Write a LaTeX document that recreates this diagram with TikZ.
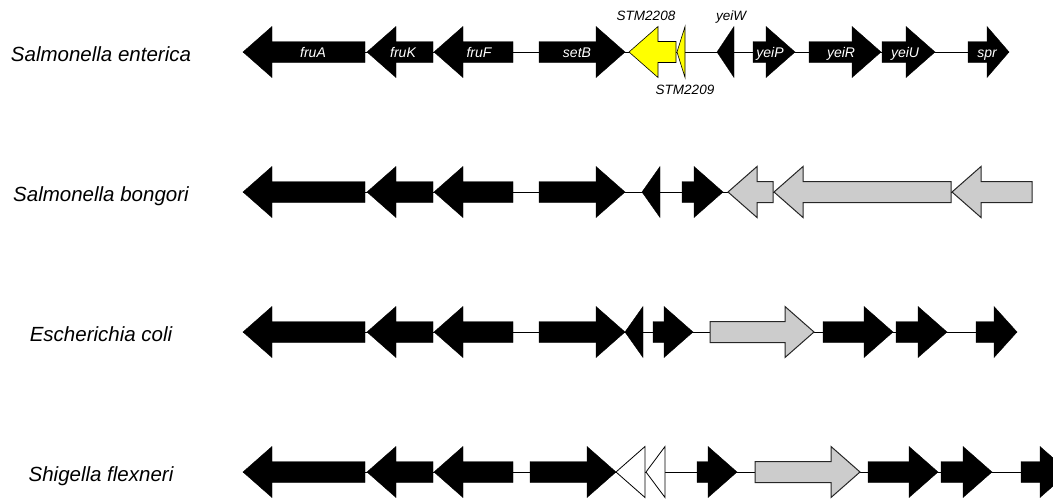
\documentclass[tikz,border=0pt]{standalone}
\usepackage{fontspec}
\setmainfont{Liberation Sans}
\usepackage{tikz}

\definecolor{genegray}{HTML}{CCCCCC}
\definecolor{geneyellow}{HTML}{FFFF00}

\tikzset{
   blackgene/.style={fill=black, draw=black, line width=.4pt},
   graygene/.style={fill=genegray, draw=black!85, line width=1pt},
   yellowgene/.style={fill=geneyellow, draw=black, line width=.6pt},
   whitegene/.style={fill=white, draw=black, line width=.8pt},
   backbone/.style={draw=black, line width=1pt},
   species/.style={anchor=base, font=\fontsize{20.5}{24}\selectfont\itshape},
   genename/.style={anchor=base, text=white, font=\fontsize{14}{16}\selectfont\itshape},
   outname/.style={anchor=base, text=black, font=\fontsize{13.5}{16}\selectfont\itshape}
}

% #1 head length, #2 style, #3 tail x, #4 tip x, #5 row y
\newcommand{\genearrow}[5][29]{%
   \pgfmathsetmacro{\gdir}{sign(#4-#3)}%
   \pgfmathsetmacro{\ghead}{min(#1,abs(#4-#3))}%
   \pgfmathsetmacro{\gbase}{#4-\gdir*\ghead}%
   \draw[#2] (#3,#5-10.5) -- (\gbase,#5-10.5) -- (\gbase,#5-25.5) -- (#4,#5)
      -- (\gbase,#5+25.5) -- (\gbase,#5+10.5) -- (#3,#5+10.5) -- cycle;%
}

\begin{document}
\begin{tikzpicture}[x=1pt, y=-1pt]
   \useasboundingbox (0,0) rectangle (1053,499);
   \clip (0,0) rectangle (1053,499);

   \node[species] (enterica) at (101,61) {Salmonella enterica};
   \node[species] (bongori) at (101,201) {Salmonella bongori};
   \node[species] (coli) at (101,341) {Escherichia coli};
   \node[species] (flexneri) at (101,481) {Shigella flexneri};

   % Salmonella enterica
   \draw[backbone] (243,52) -- (1009,52);
   \foreach \t/\p/\s/\h in {365/243/blackgene/29, 433/367/blackgene/29,
         513/434/blackgene/29, 539/625/blackgene/29, 676/629/yellowgene/29,
         685/677/yellowgene/29, 734/717/blackgene/29, 753/795/blackgene/29,
         809/881/blackgene/29, 882/935/blackgene/29, 968/1009/blackgene/22}
      \genearrow[\h]{\s}{\t}{\p}{52};

   \node[genename] (fruA) at (313,57) {fruA};
   \node[genename] (fruK) at (403,57) {fruK};
   \node[genename] (fruF) at (479,57) {fruF};
   \node[genename] (setB) at (577,57) {setB};
   \node[genename] (yeiP) at (770,57) {yeiP};
   \node[genename] (yeiR) at (841,57) {yeiR};
   \node[genename] (yeiU) at (905,57) {yeiU};
   \node[genename] (spr) at (987,57) {spr};
   \node[outname] (STM2208) at (646,20) {STM2208};
   \node[outname] (STM2209) at (685,94) {STM2209};
   \node[outname] (yeiW) at (731,20) {yeiW};

   % Salmonella bongori
   \draw[backbone] (243,192) -- (1032,192);
   \foreach \t/\p/\s in {365/243/blackgene, 433/367/blackgene,
         513/434/blackgene, 539/625/blackgene, 660/642/blackgene,
         682/723/blackgene, 773/728/graygene, 951/774/graygene,
         1032/952/graygene}
      \genearrow{\s}{\t}{\p}{192};

   % Escherichia coli
   \draw[backbone] (243,332) -- (1017,332);
   \foreach \t/\p/\s/\h in {365/243/blackgene/29, 433/367/blackgene/29,
         513/434/blackgene/29, 539/625/blackgene/29, 643/625/blackgene/29,
         653/693/blackgene/29, 710/814/graygene/29, 823/893/blackgene/29,
         896/947/blackgene/29, 976/1017/blackgene/23}
      \genearrow[\h]{\s}{\t}{\p}{332};

   % Shigella flexneri
   \draw[backbone] (243,472) -- (1060,472);
   \foreach \t/\p/\s in {365/243/blackgene, 433/367/blackgene,
         513/434/blackgene, 530/616/blackgene, 645/616/whitegene,
         665/646/whitegene, 697/737/blackgene, 755/860/graygene,
         868/938/blackgene, 941/992/blackgene, 1021/1069/blackgene}
      \genearrow{\s}{\t}{\p}{472};

\end{tikzpicture}
\end{document}
